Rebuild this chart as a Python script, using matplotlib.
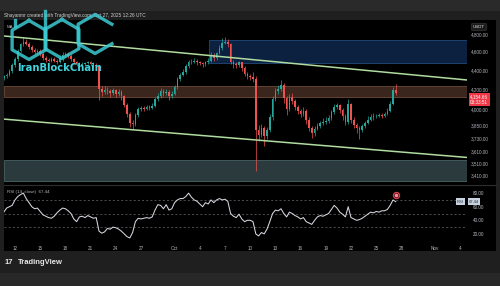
import datetime as dt
import numpy as np
import matplotlib
matplotlib.use("Agg")
import matplotlib.pyplot as plt
import matplotlib.dates as mdates
import matplotlib.transforms as mtransforms
from matplotlib.patches import Rectangle
from matplotlib.lines import Line2D

plt.rcParams["font.family"] = ["Liberation Sans", "DejaVu Sans"]

W, H = 500, 286

# ETH/USDT, 8-hour bars; first bar opens Sep 10 16:00 UTC
first_bar = dt.datetime(2025, 9, 10, 16)
bar_hours = 8
first_open = 4310
closes = [
    4330,
    4350, 4390, 4450,   4520, 4610, 4680,   4710, 4690, 4650,   4620, 4590, 4610,
    4570, 4530, 4510,   4500, 4520, 4500,   4490, 4530, 4560,   4570, 4550, 4520,
    4480, 4460, 4450,   4460, 4470, 4480,   4460, 4450, 4440,   4200, 4170, 4190,
    4180, 4160, 4190,   4150, 4170, 4130,   4040, 3950, 3870,   3860, 3940, 4000,
    4010, 4000, 4020,   4010, 4030, 4100,   4130, 4180, 4160,   4170, 4130, 4150,
    4220, 4300, 4350,   4380, 4440, 4480,   4490, 4500, 4480,   4470, 4460, 4480,
    4500, 4560, 4530,   4580, 4640, 4700,   4710, 4680, 4490,   4460, 4450, 4480,
    4420, 4360, 4340,   4320, 4300, 3800,   3760, 3820, 3750,   3800, 3920, 4100,
    4180, 4200, 4240,   4110, 4000, 4120,   4080, 4020, 3980,   3950, 3980, 3900,
    3820, 3770, 3810,   3840, 3870, 3880,   3890, 3910, 3970,   4020, 4040, 3990,
    3930, 3880, 4050,   3900, 3850, 3820,   3800, 3840, 3870,   3900, 3920, 3930,
    3930, 3940, 3930,   3950, 3980, 4050,
    4190, 4154.66,
]
highs = [
    4350,
    4370, 4410, 4470,   4540, 4630, 4700,   4760, 4740, 4710,   4670, 4640, 4630,
    4630, 4590, 4550,   4530, 4540, 4540,   4520, 4560, 4600,   4600, 4590, 4570,
    4530, 4500, 4480,   4480, 4490, 4500,   4500, 4480, 4470,   4450, 4230, 4230,
    4220, 4200, 4210,   4200, 4200, 4190,   4140, 4060, 3970,   3900, 3960, 4020,
    4030, 4030, 4040,   4040, 4060, 4120,   4160, 4210, 4200,   4200, 4190, 4180,
    4240, 4320, 4370,   4410, 4460, 4510,   4520, 4530, 4520,   4500, 4490, 4500,
    4530, 4590, 4580,   4600, 4670, 4750,   4760, 4740, 4700,   4510, 4490, 4500,
    4490, 4440, 4380,   4360, 4380, 4330,   3850, 3860, 3840,   3830, 3950, 4130,
    4210, 4240, 4290,   4260, 4130, 4150,   4160, 4100, 4040,   4000, 4020, 4000,
    3920, 3840, 3840,   3870, 3890, 3910,   3920, 3940, 3990,   4050, 4060, 4050,
    4010, 3950, 4100,   4060, 3920, 3870,   3840, 3860, 3890,   3930, 3950, 3960,
    3950, 3960, 3960,   3970, 4010, 4080,
    4220, 4255,
]
lows = [
    4290,
    4310, 4330, 4370,   4430, 4500, 4590,   4660, 4670, 4630,   4600, 4570, 4570,
    4550, 4510, 4480,   4480, 4480, 4480,   4460, 4470, 4500,   4540, 4530, 4500,
    4460, 4440, 4430,   4440, 4450, 4460,   4440, 4430, 4420,   4090, 4130, 4150,
    4150, 4120, 4140,   4120, 4130, 4090,   4020, 3920, 3830,   3810, 3840, 3920,
    3980, 3980, 3990,   3990, 4000, 4020,   4080, 4110, 4130,   4140, 4090, 4110,
    4140, 4200, 4280,   4330, 4360, 4420,   4460, 4470, 4450,   4450, 4430, 4440,
    4460, 4490, 4500,   4510, 4570, 4620,   4680, 4650, 4460,   4420, 4420, 4430,
    4390, 4330, 4300,   4290, 4270, 3440,   3700, 3740, 3660,   3720, 3780, 3900,
    4080, 4150, 4180,   4060, 3940, 3980,   4050, 3990, 3950,   3920, 3930, 3860,
    3790, 3730, 3750,   3800, 3820, 3850,   3860, 3870, 3900,   3950, 4000, 3960,
    3900, 3850, 3860,   3870, 3820, 3770,   3720, 3780, 3820,   3860, 3890, 3900,
    3910, 3920, 3910,   3920, 3940, 3970,
    4040, 4140,
]
rsi = [
    52,
    58, 60, 62,   70, 75, 78,   80, 72, 66,   60, 57, 58,   53, 48, 46,
    44, 43, 46,   51, 55, 58,   57, 54, 50,   42, 38, 45,   46, 44, 47,
    45, 43, 44,   24, 21, 23,   28, 27, 30,   29, 27, 24,   20, 16, 14,
    22, 38, 43,   42, 43, 44,   43, 45, 55,   63, 62, 57,   63, 55, 57,
    66, 70, 72,   72, 75, 80,   74, 70, 68,   64, 60, 66,   64, 70, 66,
    70, 72, 70,   71, 68, 50,   46, 44, 49,   42, 38, 40,   40, 38, 20,
    17, 22, 20,   27, 38, 50,   55, 54, 57,   50, 45, 52,   50, 47, 45,
    42, 44, 38,   36, 34, 40,   45, 47, 46,   48, 50, 56,   62, 58, 52,
    49, 45, 60,   44, 42, 40,   41, 43, 46,   49, 52, 51,   53, 52, 54,
    54, 56, 62,
    70, 67.44,
]

price_ticks = [4800, 4600, 4400, 4200, 4000, 3850, 3730, 3610, 3510, 3410]
rsi_ticks = [80, 60, 40, 20]
rsi_levels = [70, 50, 30]
date_ticks = [dt.datetime(2025, 9, d) for d in (12, 15, 18, 21, 24, 27)] + \
             [dt.datetime(2025, 10, d) for d in (1, 4, 7, 10, 13, 16, 19, 22, 25, 28)] + \
             [dt.datetime(2025, 11, d) for d in (1, 4)]
date_labels = ["12", "15", "18", "21", "24", "27", "Oct", "4", "7", "10",
               "13", "16", "19", "22", "25", "28", "Nov", "4"]

view_start = dt.datetime(2025, 9, 10, 16, 34)
view_end = dt.datetime(2025, 11, 4, 19, 26)
price_range = (3335, 4966)
rsi_range = (11, 90.5)

# drawings on the chart
upper_channel = [(view_start, 4777), (view_end, 4293)]
lower_channel = [(view_start, 3904), (view_end, 3557)]
supply_zone = (dt.datetime(2025, 10, 5, 2), 4475, 4730)
pivot_zone = (4120, 4231)
demand_zone = (3356, 3532)
countdown = "03:33:51"
alert_rsi = 77

UP, DOWN = "#26a69a", "#ef5350"
AXIS_TXT = "#b2b5be"


def fx(x):
    return x / W


def fy(y):
    return 1 - y / H


fig = plt.figure(figsize=(W / 100, H / 100), dpi=100, facecolor="#1f1f1f")
fig.add_artist(Rectangle((0, fy(11)), 1, 11 / H, transform=fig.transFigure,
                         fc="#2a2a2a", ec="none", zorder=-5))
fig.add_artist(Rectangle((0, 0), 1, 13 / H, transform=fig.transFigure,
                         fc="#282828", ec="none", zorder=-5))
fig.add_artist(Rectangle((fx(4), fy(251)), fx(492), 231 / H, transform=fig.transFigure,
                         fc="black", ec="none", zorder=-4))
fig.add_artist(Line2D([fx(4), fx(496)], [fy(185), fy(185)], color="#2e2e2e", lw=0.8))

ax = fig.add_axes([fx(4), fy(184), fx(463), 164 / H])
ax_rsi = fig.add_axes([fx(4), fy(240), fx(463), 54 / H], sharex=ax)
for a in (ax, ax_rsi):
    a.set_facecolor("none")
    for s in a.spines.values():
        s.set_visible(False)
    a.yaxis.tick_right()
    a.tick_params(length=0, labelsize=3.3, colors=AXIS_TXT)

times = [first_bar + dt.timedelta(hours=bar_hours * i) for i in range(len(closes))]
tnum = mdates.date2num(times)
opens = [first_open] + closes[:-1]
colors = [UP if c >= o else DOWN for o, c in zip(opens, closes)]
body = np.array(closes) - np.array(opens)

# zones first so candles sit on top
ax.axhspan(*pivot_zone, fc="#3a261c", ec="#6e4a3a", lw=0.6, zorder=1)
ax.axhspan(*demand_zone, fc="#2b3b3d", ec="#4a6466", lw=0.6, zorder=1)
zx0 = mdates.date2num(supply_zone[0])
ax.add_patch(Rectangle((zx0, supply_zone[1]), mdates.date2num(view_end) - zx0,
                       supply_zone[2] - supply_zone[1], fc="#0c2140", ec="#1f4a7a",
                       lw=0.6, zorder=1))

ax.vlines(tnum, lows, highs, colors=colors, lw=0.5, zorder=3)
ax.bar(tnum, body, bottom=opens, width=0.2, color=colors, lw=0, zorder=3)

for line in (upper_channel, lower_channel):
    ax.plot([p[0] for p in line], [p[1] for p in line], color="#b0dca0", lw=1.1, zorder=4)

ax.set_yscale("log")
ax.set_ylim(*price_range)
ax.set_xlim(view_start, view_end)
ax.yaxis.set_major_locator(matplotlib.ticker.FixedLocator(price_ticks))
ax.yaxis.set_minor_locator(matplotlib.ticker.NullLocator())
ax.set_yticklabels([f"{v:,.2f}" for v in price_ticks])
ax.tick_params(axis="y", pad=2.5)
ax.tick_params(axis="x", labelbottom=False)

# last price label
blend = mtransforms.blended_transform_factory(fig.transFigure, ax.transData)
ax.annotate(f"{closes[-1]:,.2f}\n{countdown}", xy=(fx(470), closes[-1]), xycoords=blend,
            xytext=(0, -0.6), textcoords="offset points", va="top", ha="left",
            fontsize=3.3, color="white", linespacing=1.05, zorder=10, annotation_clip=False,
            bbox=dict(boxstyle="square,pad=0.3", fc="#f23645", ec="none"))

# RSI pane
ax_rsi.plot(tnum, rsi, color="#d6d6e0", lw=0.75, zorder=3)
for lvl in rsi_levels:
    ax_rsi.axhline(lvl, color="#6b6b6b", lw=0.5, ls=(0, (3, 3)), zorder=1)
ax_rsi.set_ylim(*rsi_range)
ax_rsi.set_yticks(rsi_ticks)
ax_rsi.set_yticklabels([f"{v:.2f}" for v in rsi_ticks])
ax_rsi.tick_params(axis="y", pad=4)
ax_rsi.set_xticks(mdates.date2num(date_ticks))
ax_rsi.set_xticklabels(date_labels)
ax_rsi.tick_params(axis="x", pad=4)
ax_rsi.plot([tnum[-1]], [alert_rsi], marker="o", ms=4.5, mfc="#5a1a22", mec="#e0404f",
            mew=0.8, zorder=5)
ax_rsi.plot([tnum[-1]], [alert_rsi], marker="o", ms=1.5, color="#ff8a95", zorder=6)

blend_r = mtransforms.blended_transform_factory(fig.transFigure, ax_rsi.transData)
ax_rsi.text(fx(457), rsi[-1], "RSI", transform=blend_r, fontsize=3, color="#1d2a3c",
            va="center", ha="left", zorder=10, clip_on=False,
            bbox=dict(boxstyle="square,pad=0.3", fc="#c9d3e0", ec="none"))
ax_rsi.text(fx(469), rsi[-1], f"{rsi[-1]:.2f}", transform=blend_r, fontsize=3,
            color="#1d2a3c", va="center", ha="left", zorder=10, clip_on=False,
            bbox=dict(boxstyle="square,pad=0.3", fc="#c9d3e0", ec="none"))

# header, labels, watermark
fig.text(fx(4), fy(15), "Shayanmr created with TradingView.com, Oct 27, 2025 12:26 UTC",
         fontsize=3.4, color="#cfcfcf", va="center")
fig.text(fx(7), fy(26.5), "MA", fontsize=3.2, color=AXIS_TXT, va="center")
fig.text(fx(7), fy(192), f"RSI (14, close)  {rsi[-1]:.2f}", fontsize=3.2,
         color=AXIS_TXT, va="center")
fig.text(fx(479), fy(27), "USDT", fontsize=3.2, color="#e0e0e0", va="center", ha="center",
         bbox=dict(boxstyle="round,pad=0.4", fc="#1c1c1c", ec="#3a3a3a", lw=0.4))

logo = "#3ccbd3"
R = 19.5
ang = np.deg2rad(90 + 60 * np.arange(7))
for cx, cy in [(29, 40), (62, 39)]:
    fig.add_artist(Line2D(fx(cx + R * np.cos(ang)), fy(cy - R * np.sin(ang)),
                          color=logo, lw=2.4, alpha=0.85, zorder=20))
ang_c = np.deg2rad(np.array([30, 90, 150, 210, 270, 330]))
fig.add_artist(Line2D(fx(95 + R * np.cos(ang_c)), fy(34 - R * np.sin(ang_c)),
                      color=logo, lw=2.4, alpha=0.85, zorder=20))
stem_x = 62 - R * np.cos(np.deg2rad(30))
fig.add_artist(Line2D([fx(stem_x), fx(stem_x)], [fy(11), fy(39)], color=logo, lw=2.4,
                      alpha=0.85, zorder=20))
fig.add_artist(Line2D([fx(15), fx(15)], [fy(20), fy(26)], color=logo, lw=2.4,
                      alpha=0.85, zorder=20))
fig.text(fx(60), fy(68), "IranBlockChain", fontsize=7.2, fontweight="bold",
         family="DejaVu Sans", color="#41d3dc", ha="center", va="center", zorder=21)

fig.text(fx(5), fy(262), "17", fontsize=5.5, fontweight="bold", color="#e8e8e8",
         va="center")
fig.text(fx(18), fy(262), "TradingView", fontsize=5.5, fontweight="bold", color="#e8e8e8",
         va="center")

fig.savefig("out.png", dpi=100, facecolor=fig.get_facecolor())
